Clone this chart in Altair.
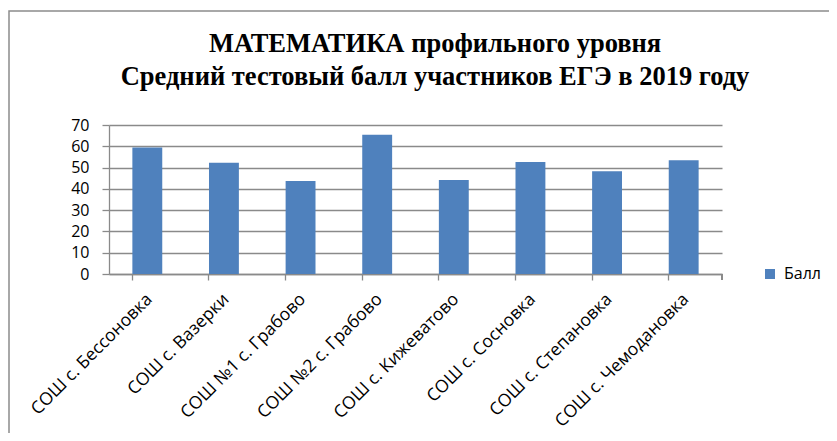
import altair as alt
import pandas as pd

schools = ["СОШ с. Бессоновка", "СОШ с. Вазерки", "СОШ №1 с. Грабово", "СОШ №2 с. Грабово",
           "СОШ с. Кижеватово", "СОШ с. Сосновка", "СОШ с. Степановка", "СОШ с. Чемодановка"]
scores = [59.4, 52.3, 43.7, 65.4, 44.2, 52.6, 48.3, 53.4]
series = ["Балл"] * len(schools)
y_ticks = [0, 10, 20, 30, 40, 50, 60, 70]
title_lines = ["МАТЕМАТИКА профильного уровня", "Средний тестовый балл участников ЕГЭ в 2019 году"]

df = pd.DataFrame({"school": schools, "score": scores, "series": series})
one = pd.DataFrame({"k": [0]})

W, H = 613, 149
GRID = "#8a8a8a"
FONT = "Open Sans"

bars = alt.Chart(df).mark_bar(color="#4F81BD").encode(
    x=alt.X("school:N", sort=schools, title=None,
            scale=alt.Scale(paddingInner=0.61, paddingOuter=0.305),
            axis=alt.Axis(labelAngle=-45, labelAlign="right", labelBaseline="top",
                          labelFontSize=17.5, labelFont=FONT, labelColor="black",
                          labelPadding=10, bandPosition=0, labelOffset=-4,
                          tickSize=6, tickColor=GRID,
                          tickWidth=1.3, domainColor=GRID, domainWidth=1.3, grid=False,
                          labelOverlap=False, labelLimit=300)),
    y=alt.Y("score:Q", title=None,
            scale=alt.Scale(domain=[0, 70], nice=False),
            axis=alt.Axis(values=y_ticks, labelFontSize=16, labelFont=FONT, labelColor="black",
                          labelPadding=13, tickSize=7, tickColor=GRID, tickWidth=1.3,
                          domainColor=GRID, domainWidth=1.3, gridColor=GRID, gridWidth=1.3)),
    color=alt.Color("series:N", title=None,
                    scale=alt.Scale(range=["#4F81BD"]),
                    legend=alt.Legend(orient="none", legendX=653, legendY=141, symbolType="square",
                                      symbolSize=100, symbolStrokeWidth=0, labelFontSize=16,
                                      labelFont=FONT, labelColor="black", padding=0,
                                      symbolOffset=0, labelOffset=6)),
)

end_tick = alt.Chart(df).mark_rule(color=GRID, strokeWidth=1.3).encode(
    x=alt.value(W), y=alt.value(H), y2=alt.value(H + 6)
)

frame = alt.Chart(one).mark_rect(fill=None, stroke="#8c8c8c", strokeWidth=1.5).encode(
    x=alt.value(-100), x2=alt.value(900), y=alt.value(-114), y2=alt.value(500)
)

title = alt.Chart(one).mark_text(
    text=title_lines, font="Liberation Serif", fontSize=26.5, fontWeight="bold",
    color="black", lineHeight=33, align="center", baseline="alphabetic"
).encode(x=alt.value(326), y=alt.value(-73))

chart = alt.layer(frame, title, bars, end_tick).properties(
    width=W, height=H,
    autosize=alt.AutoSizeParams(type="none"),
    padding={"left": 101, "top": 117, "right": 107, "bottom": 159},
).configure_view(stroke=None)

chart.save("out.html", embed_options={"renderer": "svg", "actions": False})
